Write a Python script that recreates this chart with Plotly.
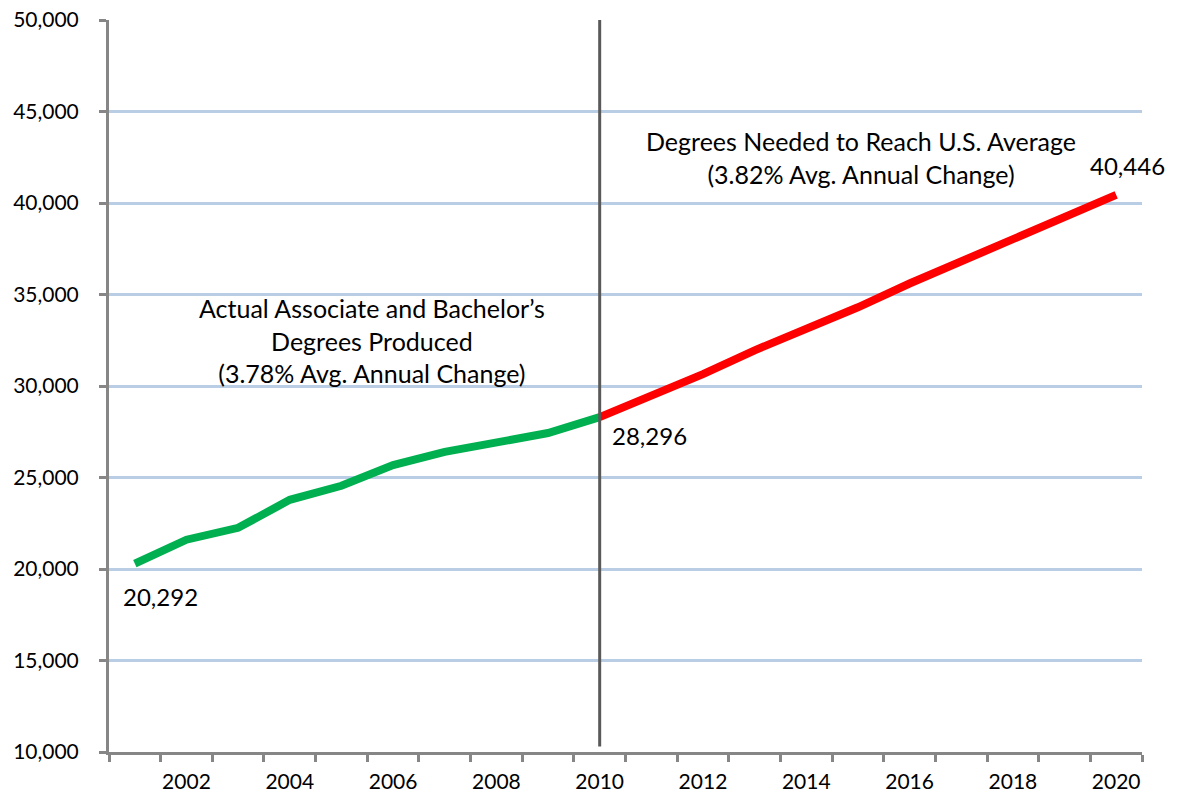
import plotly.graph_objects as go

# degrees produced (actual) and needed (projection)
actual_years = [2001, 2002, 2003, 2004, 2005, 2006, 2007, 2008, 2009, 2010]
actual_degrees = [20292, 21600, 22250, 23780, 24550, 25680, 26400, 26950, 27430, 28296]

needed_years = [2010, 2011, 2012, 2013, 2014, 2015, 2016, 2017, 2018, 2019, 2020]
needed_degrees = [28296, 29450, 30650, 31950, 33100, 34300, 35600, 36800, 38050, 39250, 40446]

label_years = [2002, 2004, 2006, 2008, 2010, 2012, 2014, 2016, 2018, 2020]

FONT = "Lato"
AXIS_GRAY = "#868686"
NOTE_SIZE = 24

fig = go.Figure()

fig.add_trace(go.Scatter(x=actual_years, y=actual_degrees, mode="lines",
                         line=dict(color="#00B050", width=8),
                         hoverinfo="skip", showlegend=False))
fig.add_trace(go.Scatter(x=needed_years, y=needed_degrees, mode="lines",
                         line=dict(color="#FF0000", width=8),
                         hoverinfo="skip", showlegend=False))

# divider at 2010
fig.add_shape(type="line", x0=2010, x1=2010, y0=10300, y1=50000,
              xref="x", yref="y", line=dict(color="#595959", width=3))

# value labels
fig.add_annotation(x=actual_years[0], y=actual_degrees[0], text="20,292",
                   showarrow=False, xanchor="left", yanchor="top",
                   xshift=-14, yshift=-16, font=dict(size=NOTE_SIZE))
fig.add_annotation(x=actual_years[-1], y=actual_degrees[-1], text="28,296",
                   showarrow=False, xanchor="left", yanchor="top",
                   xshift=10, yshift=-2, font=dict(size=NOTE_SIZE))
fig.add_annotation(x=needed_years[-1], y=needed_degrees[-1], text="40,446",
                   showarrow=False, xanchor="left", yanchor="bottom",
                   xshift=-28, yshift=13, font=dict(size=NOTE_SIZE))

fig.add_annotation(x=2005.6, y=32500, showarrow=False, align="center",
                   font=dict(size=25),
                   text="Actual Associate and Bachelor’s<br>Degrees Produced"
                        "<br>(3.78% Avg. Annual Change)")
fig.add_annotation(x=2015.05, y=42500, showarrow=False, align="center",
                   font=dict(size=25),
                   text="Degrees Needed to Reach U.S. Average"
                        "<br>(3.82% Avg. Annual Change)")

fig.update_xaxes(range=[2000.5, 2020.5], automargin=False,
                 tickvals=label_years, ticktext=[str(y) for y in label_years],
                 ticks="", showgrid=False, zeroline=False,
                 showline=True, linecolor=AXIS_GRAY, linewidth=3,
                 minor=dict(tick0=2000.5, dtick=1, ticks="outside", ticklen=7,
                            tickwidth=3, tickcolor=AXIS_GRAY, showgrid=False),
                 ticklabelstandoff=9)
fig.update_yaxes(range=[10000, 50000], dtick=5000, tickformat=",",
                 automargin=False,
                 showgrid=True, gridcolor="#B9CDE5", gridwidth=2.5,
                 zeroline=False, showline=True, linecolor=AXIS_GRAY, linewidth=3,
                 ticks="outside", ticklen=7, tickwidth=3, tickcolor=AXIS_GRAY,
                 ticklabelstandoff=16)

fig.update_layout(width=1182, height=797,
                  margin=dict(l=109, r=40, t=20, b=45),
                  plot_bgcolor="white", paper_bgcolor="white",
                  font=dict(family=FONT, size=21, color="black"))

# drop the default body margin so the figure sits at the page origin
fig.write_html("out.html", config={"displayModeBar": False},
               post_script="document.body.style.margin='0';")
